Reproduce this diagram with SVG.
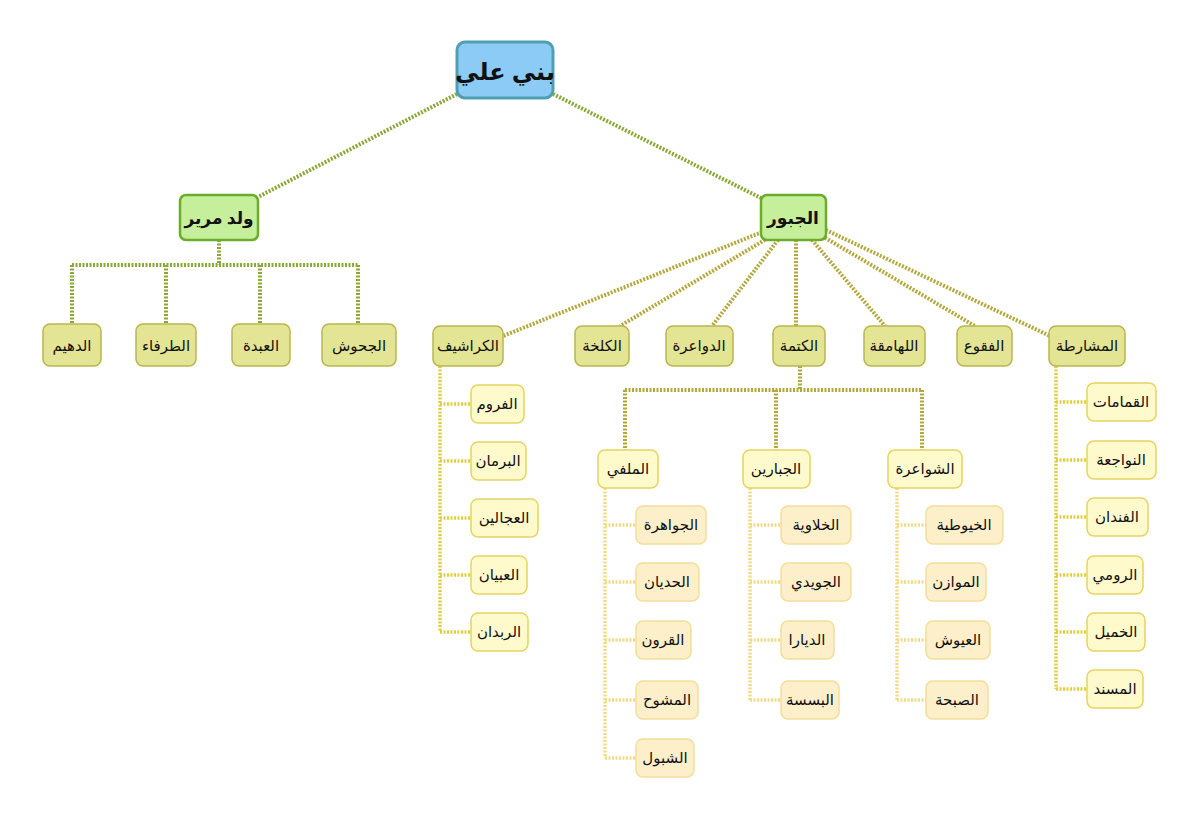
<svg xmlns="http://www.w3.org/2000/svg" width="1200" height="822" viewBox="0 0 1200 822">
<style>
text{font-family:"Noto Sans","DejaVu Sans",sans-serif;text-anchor:middle;dominant-baseline:central;fill:#111}
.c1{stroke:#8aa835;stroke-width:4;stroke-dasharray:2 1.5;fill:none}
.c2{stroke:#b4a83c;stroke-width:4;stroke-dasharray:2 1.5;fill:none}
.c3{stroke:#e0cf3c;stroke-width:3.5;stroke-dasharray:2 1.5;fill:none}
.c4{stroke:#f1dc86;stroke-width:3.5;stroke-dasharray:2 1.5;fill:none}
.root rect{fill:#8ccbf6;stroke:#4f9fb3;stroke-width:3}
.l1 rect{fill:#c6ef9c;stroke:#6cab2c;stroke-width:2.5}
.l2 rect{fill:#e3e494;stroke:#b9b650;stroke-width:1.5}
.l3 rect{fill:#fffacc;stroke:#e6d462;stroke-width:1.5}
.l4 rect{fill:#fdefca;stroke:#f2de9c;stroke-width:1.5}
.l2 text,.l3 text,.l4 text{font-size:15px}
</style>
<g id="connectors">
<path class="c1" d="M457,94 L258,197 M553,94 L763,199"/>
<path class="c1" d="M219,240 V265 M72,265 H358 M72,265 V324 M166,265 V324 M260,265 V324 M358,265 V324"/>
<path class="c2" d="M762,232 L503,336 M768,238 L620,326 M778,240 L712,326 M796,240 V326 M812,240 L885,326 M822,236 L975,326 M826,230 L1050,336"/>
<path class="c2" d="M800,366 V390 M625,390 H922 M625,390 V450 M776,390 V450 M922,390 V450"/>
<path class="c3" d="M440,366 V632 M440,404 H471 M440,461 H471 M440,518 H471 M440,575 H471 M440,632 H471"/>
<path class="c3" d="M1056,366 V689 M1056,402 H1087 M1056,460 H1087 M1056,517 H1087 M1056,575 H1087 M1056,632 H1087 M1056,689 H1087"/>
<path class="c4" d="M605,488 V758 M605,525 H636 M605,582 H636 M605,640 H636 M605,700 H636 M605,758 H636"/>
<path class="c4" d="M750,488 V700 M750,525 H781 M750,582 H781 M750,640 H781 M750,700 H781"/>
<path class="c4" d="M897,488 V700 M897,525 H926 M897,582 H926 M897,640 H926 M897,700 H926"/>
</g>
<g id="n-root" class="root"><rect x="457" y="42" width="96" height="56" rx="8"/><text x="505" y="70" font-size="24" font-weight="bold">بني علي</text></g>
<g id="n-walad" class="l1"><rect x="180" y="195" width="78" height="45" rx="6"/><text x="219" y="217" font-size="17" font-weight="bold">ولد مرير</text></g>
<g id="n-jubur" class="l1"><rect x="761" y="195" width="65" height="45" rx="6"/><text x="793" y="217" font-size="17" font-weight="bold">الجبور</text></g>
<g id="n-dhuhaym" class="l2"><rect x="43" y="324" width="58" height="42" rx="7"/><text x="72" y="345">الدهيم</text></g>
<g id="n-tarfa" class="l2"><rect x="136" y="324" width="60" height="42" rx="7"/><text x="166" y="345">الطرفاء</text></g>
<g id="n-abda" class="l2"><rect x="232" y="324" width="58" height="42" rx="7"/><text x="261" y="345">العبدة</text></g>
<g id="n-jhush" class="l2"><rect x="322" y="324" width="74" height="42" rx="7"/><text x="359" y="345">الجحوش</text></g>
<g id="n-karashif" class="l2"><rect x="433" y="326" width="70" height="40" rx="7"/><text x="468" y="345">الكراشيف</text></g>
<g id="n-kalkha" class="l2"><rect x="575" y="326" width="54" height="40" rx="7"/><text x="602" y="345">الكلخة</text></g>
<g id="n-dawaira" class="l2"><rect x="666" y="326" width="67" height="40" rx="7"/><text x="699" y="345">الدواعرة</text></g>
<g id="n-katma" class="l2"><rect x="773" y="326" width="52" height="40" rx="7"/><text x="799" y="345">الكتمة</text></g>
<g id="n-lahamqa" class="l2"><rect x="864" y="326" width="61" height="40" rx="7"/><text x="894" y="345">اللهامقة</text></g>
<g id="n-fuqu" class="l2"><rect x="957" y="326" width="55" height="40" rx="7"/><text x="984" y="345">الفقوع</text></g>
<g id="n-masharta" class="l2"><rect x="1049" y="326" width="76" height="40" rx="7"/><text x="1087" y="345">المشارطة</text></g>
<g id="n-furum" class="l3"><rect x="471" y="385" width="53" height="38" rx="7"/><text x="497" y="403">الفروم</text></g>
<g id="n-birman" class="l3"><rect x="471" y="442" width="55" height="38" rx="7"/><text x="498" y="460">البرمان</text></g>
<g id="n-ajalin" class="l3"><rect x="471" y="499" width="67" height="38" rx="7"/><text x="504" y="517">العجالين</text></g>
<g id="n-ibyan" class="l3"><rect x="471" y="556" width="56" height="38" rx="7"/><text x="499" y="574">العبيان</text></g>
<g id="n-ribdan" class="l3"><rect x="471" y="613" width="57" height="38" rx="7"/><text x="499" y="631">الربدان</text></g>
<g id="n-qamamat" class="l3"><rect x="1087" y="383" width="69" height="38" rx="7"/><text x="1121" y="401">القمامات</text></g>
<g id="n-nawajaa" class="l3"><rect x="1087" y="441" width="69" height="38" rx="7"/><text x="1121" y="459">النواجعة</text></g>
<g id="n-findan" class="l3"><rect x="1087" y="498" width="61" height="38" rx="7"/><text x="1117" y="516">الفندان</text></g>
<g id="n-rumi" class="l3"><rect x="1087" y="556" width="56" height="38" rx="7"/><text x="1115" y="574">الرومي</text></g>
<g id="n-khamil" class="l3"><rect x="1087" y="613" width="58" height="38" rx="7"/><text x="1116" y="631">الخميل</text></g>
<g id="n-musnad" class="l3"><rect x="1087" y="670" width="56" height="38" rx="7"/><text x="1115" y="688">المسند</text></g>
<g id="n-milfi" class="l3"><rect x="598" y="450" width="60" height="38" rx="7"/><text x="628" y="468">الملفي</text></g>
<g id="n-jabarin" class="l3"><rect x="743" y="450" width="67" height="38" rx="7"/><text x="776" y="468">الجبارين</text></g>
<g id="n-shawaira" class="l3"><rect x="888" y="450" width="74" height="38" rx="7"/><text x="925" y="468">الشواعرة</text></g>
<g id="n-jawahira" class="l4"><rect x="636" y="506" width="70" height="38" rx="7"/><text x="671" y="524">الجواهرة</text></g>
<g id="n-hidyan" class="l4"><rect x="636" y="563" width="63" height="38" rx="7"/><text x="667" y="581">الحديان</text></g>
<g id="n-qurun" class="l4"><rect x="636" y="621" width="55" height="38" rx="7"/><text x="663" y="639">القرون</text></g>
<g id="n-mashuh" class="l4"><rect x="636" y="681" width="62" height="38" rx="7"/><text x="667" y="699">المشوح</text></g>
<g id="n-shabul" class="l4"><rect x="636" y="739" width="58" height="38" rx="7"/><text x="665" y="757">الشبول</text></g>
<g id="n-khalawiya" class="l4"><rect x="781" y="506" width="70" height="38" rx="7"/><text x="816" y="524">الخلاوية</text></g>
<g id="n-juwaydi" class="l4"><rect x="781" y="563" width="70" height="38" rx="7"/><text x="816" y="581">الجويدي</text></g>
<g id="n-diyara" class="l4"><rect x="781" y="621" width="53" height="38" rx="7"/><text x="807" y="639">الديارا</text></g>
<g id="n-basasa" class="l4"><rect x="781" y="681" width="58" height="38" rx="7"/><text x="810" y="699">البسسة</text></g>
<g id="n-khuyutiya" class="l4"><rect x="926" y="506" width="77" height="38" rx="7"/><text x="964" y="524">الخيوطية</text></g>
<g id="n-mawazin" class="l4"><rect x="926" y="563" width="60" height="38" rx="7"/><text x="956" y="581">الموازن</text></g>
<g id="n-uyush" class="l4"><rect x="926" y="621" width="64" height="38" rx="7"/><text x="958" y="639">العيوش</text></g>
<g id="n-sabha" class="l4"><rect x="926" y="681" width="62" height="38" rx="7"/><text x="957" y="699">الصبحة</text></g>
</svg>
